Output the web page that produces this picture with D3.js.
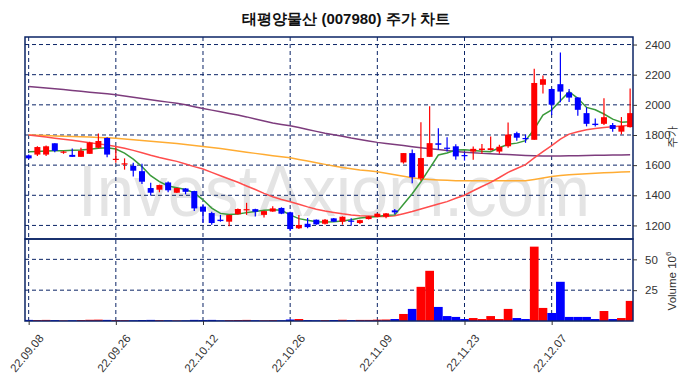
<!DOCTYPE html>
<html>
<head>
<meta charset="utf-8">
<script src="https://cdn.jsdelivr.net/npm/d3@7"></script>
<style>
  body { margin: 0; background: #fff; }
  text { font-family: "Liberation Sans", Arial, sans-serif; }
</style>
</head>
<body>
<svg id="chart" width="692" height="378"></svg>
<script>
// trading days 22.09.08 .. 22.12.20
var dates = ["22.09.08","22.09.13","22.09.14","22.09.15","22.09.16","22.09.19","22.09.20","22.09.21","22.09.22","22.09.23",
  "22.09.26","22.09.27","22.09.28","22.09.29","22.09.30","22.10.04","22.10.05","22.10.06","22.10.07","22.10.11",
  "22.10.12","22.10.13","22.10.14","22.10.17","22.10.18","22.10.19","22.10.20","22.10.21","22.10.24","22.10.25",
  "22.10.26","22.10.27","22.10.28","22.10.31","22.11.01","22.11.02","22.11.03","22.11.04","22.11.07","22.11.08",
  "22.11.09","22.11.10","22.11.11","22.11.14","22.11.15","22.11.16","22.11.17","22.11.18","22.11.21","22.11.22",
  "22.11.23","22.11.24","22.11.25","22.11.28","22.11.29","22.11.30","22.12.01","22.12.02","22.12.05","22.12.06",
  "22.12.07","22.12.08","22.12.09","22.12.12","22.12.13","22.12.14","22.12.15","22.12.16","22.12.19","22.12.20"];

var open  = [1665,1670,1670,1745,1685,1668,1655,1675,1715,1780, 1638,1608,1595,1560,1448,1437,1485,1417,1445,1428,
             1325,1282,1238,1225,1274,1304,1308,1270,1292,1316, 1287,1181,1211,1238,1211,1247,1225,1232,1216,1242,
             1256,1258,1300,1618,1680,1512,1655,1745,1716,1725, 1667,1690,1700,1700,1690,1725,1812,1780,1768,2133,
             2105,2137,2082,2049,1945,1875,1874,1866,1822,1852];
var high  = [1670,1725,1730,1745,1695,1710,1715,1755,1810,1785, 1720,1645,1615,1610,1483,1470,1492,1450,1448,1430,
             1340,1291,1270,1272,1312,1350,1310,1298,1327,1320, 1290,1270,1250,1240,1242,1250,1260,1247,1238,1262,
             1280,1283,1309,1680,1703,1885,1990,1845,1785,1738, 1685,1724,1740,1790,1735,1882,1822,1803,2240,2195,
             2108,2348,2105,2050,1983,1910,2043,1879,1919,2108];
var low   = [1640,1660,1660,1685,1675,1655,1655,1675,1710,1652, 1615,1570,1525,1475,1398,1420,1420,1415,1406,1295,
             1218,1205,1225,1195,1272,1270,1260,1252,1290,1275, 1163,1176,1181,1205,1206,1222,1205,1198,1210,1240,
             1255,1248,1275,1610,1480,1497,1655,1702,1690,1635, 1630,1636,1675,1697,1675,1715,1762,1748,1768,2075,
             1932,2017,2018,1928,1857,1857,1866,1822,1804,1850];
var close = [1645,1720,1725,1695,1690,1655,1695,1750,1760,1670, 1642,1612,1563,1490,1417,1468,1433,1448,1423,1313,
             1291,1216,1229,1269,1309,1308,1291,1295,1313,1278, 1176,1203,1189,1207,1238,1225,1258,1228,1235,1260,
             1278,1280,1287,1680,1520,1647,1746,1735,1710,1658, 1660,1708,1710,1712,1722,1803,1782,1772,2145,2170,
             2001,2088,2048,1967,1874,1866,1918,1840,1860,1945];

// volume in millions of shares
var volume = [0.9,0.8,0.9,0.7,0.5,0.6,0.8,1.0,1.1,0.9, 0.8,0.7,0.6,0.8,0.9,0.7,0.6,0.5,0.5,0.9,
              0.8,0.9,0.5,0.7,0.8,0.9,0.6,0.6,0.7,0.6, 1.2,1.6,0.7,0.6,0.7,0.8,1.0,0.7,0.9,0.9,
              1.1,1.2,1.6,5.7,9.8,27.7,40.7,11.4,4.0,3.3, 1.6,2.4,1.6,4.0,1.6,9.8,2.4,1.6,60.3,10.6,
              6.5,31.8,3.3,3.3,3.3,1.6,8.1,1.6,2.4,16.3];

// moving averages
var ma5   = [1689,1691,1694,1695,1696,1698,1700,1705,1712,1716, 1707,1680,1640,1590,1530,1490,1462,1450,1438,1416,
             1370,1315,1280,1272,1276,1285,1292,1300,1304,1300, 1270,1245,1235,1225,1222,1225,1230,1238,1250,1255,
             1260,1268,1270,1340,1410,1490,1578,1667,1680,1700, 1702,1697,1692,1689,1715,1738,1746,1762,1839,1932,
             1967,2027,2087,2043,1983,1967,1939,1905,1884,1887];
var ma20  = [1800,1793,1786,1779,1772,1765,1757,1749,1741,1733, 1724,1712,1698,1682,1665,1650,1637,1625,1608,1590,
             1574,1552,1530,1508,1486,1462,1438,1413,1390,1372, 1357,1340,1323,1308,1296,1286,1277,1270,1265,1262,
             1260,1260,1265,1278,1292,1309,1325,1342,1358,1380, 1400,1430,1458,1486,1518,1552,1578,1603,1648,1690,
             1730,1773,1806,1822,1835,1843,1850,1855,1860,1865];
var ma60  = [1800,1798,1796,1794,1792,1790,1788,1786,1784,1781, 1779,1774,1769,1764,1759,1753,1748,1743,1737,1731,
             1724,1717,1710,1702,1694,1686,1678,1670,1663,1656, 1649,1638,1627,1616,1605,1595,1585,1576,1568,1562,
             1556,1546,1536,1526,1516,1508,1504,1501,1499,1497, 1496,1496,1496,1496,1496,1496,1496,1496,1505,1515,
             1525,1532,1536,1540,1543,1546,1549,1551,1554,1556];
var ma120 = [2122,2117,2112,2106,2101,2095,2090,2084,2078,2073, 2067,2059,2050,2042,2034,2026,2018,2010,2000,1988,
             1976,1965,1954,1943,1932,1920,1906,1893,1880,1870, 1861,1849,1836,1824,1812,1802,1792,1780,1770,1760,
             1751,1744,1737,1730,1722,1715,1709,1703,1697,1691, 1686,1682,1678,1675,1673,1670,1667,1664,1662,1661,
             1661,1661,1662,1663,1664,1665,1666,1667,1668,1669];

var priceTicks = [1200, 1400, 1600, 1800, 2000, 2200, 2400];
var volTicks = [25, 50];
var dateTicks = ["22.09.08","22.09.26","22.10.12","22.10.26","22.11.09","22.11.23","22.12.07"];

var svg = d3.select("#chart"),
    left = 25, right = 633,
    pTop = 37, pBot = 239,
    vTop = 239, vBot = 321,
    navy = "#0b2466";

var x = d3.scaleLinear().domain([-0.42, 69.33]).range([left, right]);
var y = d3.scaleLinear().domain([1110, 2450]).range([pBot, pTop]);
var yv = d3.scaleLinear().domain([0, 66.5]).range([vBot, vTop]);

var up = function(i) { return close[i] >= open[i]; };
var colour = function(i) { return up(i) ? "#ff0000" : "#0000ff"; };

svg.append("text")
    .attr("x", 346).attr("y", 24)
    .attr("text-anchor", "middle")
    .attr("font-family", "'Noto Sans CJK KR', sans-serif")
    .attr("font-weight", "bold")
    .attr("font-size", 15)
    .attr("fill", "#111")
    .text("태평양물산 (007980) 주가 차트");

var defs = svg.append("defs");
defs.append("clipPath").attr("id", "clipP")
  .append("rect").attr("x", left).attr("y", pTop).attr("width", right - left).attr("height", pBot - pTop);
defs.append("clipPath").attr("id", "clipV")
  .append("rect").attr("x", left).attr("y", vTop).attr("width", right - left).attr("height", vBot - vTop);

// watermark
svg.append("text")
    .attr("x", 78).attr("y", 216)
    .attr("textLength", 512)
    .attr("lengthAdjust", "spacingAndGlyphs")
    .attr("font-size", 72)
    .attr("fill", "#e4e4e4")
    .text("InvestAxiom.com");

// grid
var tickIdx = dateTicks.map(function(d) { return dates.indexOf(d); });
var grid = svg.append("g")
    .attr("stroke", navy).attr("stroke-width", 1).attr("stroke-dasharray", "4,3").attr("fill", "none");
grid.selectAll("line.v").data(tickIdx).enter().append("line")
    .attr("x1", function(d) { return x(d); }).attr("x2", function(d) { return x(d); })
    .attr("y1", pTop).attr("y2", vBot);
grid.selectAll("line.p").data(priceTicks).enter().append("line")
    .attr("x1", left).attr("x2", right)
    .attr("y1", function(d) { return y(d); }).attr("y2", function(d) { return y(d); });
grid.selectAll("line.vv").data(volTicks).enter().append("line")
    .attr("x1", left).attr("x2", right)
    .attr("y1", function(d) { return yv(d); }).attr("y2", function(d) { return yv(d); });

// moving averages
var idx = d3.range(dates.length);
var lines = [
  {v: ma120, c: "#7d3c7d"},
  {v: ma60, c: "#ffac33"},
  {v: ma20, c: "#ff4d4d"},
  {v: ma5, c: "#3a9a3a"}
];
var lineGen = function(arr) {
  return d3.line().x(function(i) { return x(i); }).y(function(i) { return y(arr[i]); })(idx);
};
svg.append("g").attr("clip-path", "url(#clipP)")
  .selectAll("path").data(lines).enter().append("path")
    .attr("d", function(d) { return lineGen(d.v); })
    .attr("fill", "none")
    .attr("stroke", function(d) { return d.c; })
    .attr("stroke-width", 1.5);

// candles
var cw = 6;
var candles = svg.append("g").attr("clip-path", "url(#clipP)")
  .selectAll("g").data(idx).enter().append("g");
candles.append("line")
    .attr("x1", function(i) { return x(i); }).attr("x2", function(i) { return x(i); })
    .attr("y1", function(i) { return y(high[i]); }).attr("y2", function(i) { return y(low[i]); })
    .attr("stroke", colour).attr("stroke-width", 1.2);
candles.append("rect")
    .attr("x", function(i) { return x(i) - cw / 2; })
    .attr("width", cw)
    .attr("y", function(i) { return y(Math.max(open[i], close[i])); })
    .attr("height", function(i) { return Math.max(1.2, Math.abs(y(open[i]) - y(close[i]))); })
    .attr("fill", colour);

// volume bars
var bw = x(1) - x(0);
svg.append("g").attr("clip-path", "url(#clipV)")
  .selectAll("rect").data(idx).enter().append("rect")
    .attr("x", function(i) { return x(i) - bw / 2; })
    .attr("width", bw)
    .attr("y", function(i) { return yv(volume[i]); })
    .attr("height", function(i) { return vBot - yv(volume[i]); })
    .attr("fill", colour);

// frames
svg.append("rect").attr("x", left).attr("y", pTop).attr("width", right - left).attr("height", pBot - pTop)
    .attr("fill", "none").attr("stroke", navy).attr("stroke-width", 1.5);
svg.append("rect").attr("x", left).attr("y", vTop).attr("width", right - left).attr("height", vBot - vTop)
    .attr("fill", "none").attr("stroke", navy).attr("stroke-width", 1.5);

// right axes
var pAxis = svg.append("g")
    .attr("transform", "translate(" + right + ",0)")
    .call(d3.axisRight(y).tickValues(priceTicks).tickSize(4).tickPadding(8).tickFormat(d3.format("d")));
var vAxis = svg.append("g")
    .attr("transform", "translate(" + right + ",0)")
    .call(d3.axisRight(yv).tickValues(volTicks).tickSize(4).tickPadding(8));
var xAxis = svg.append("g")
    .attr("transform", "translate(0," + vBot + ")")
    .call(d3.axisBottom(x).tickValues(tickIdx).tickSize(4).tickFormat(function(i) { return dates[i]; }));
[pAxis, vAxis, xAxis].forEach(function(a) {
  a.select(".domain").remove();
  a.selectAll("line").attr("stroke", "#333");
  a.selectAll("text").attr("font-size", 11.5).attr("fill", "#333")
    .attr("font-family", "'Liberation Sans', Arial, sans-serif");
});
xAxis.selectAll(".tick text")
    .style("text-anchor", "end")
    .attr("x", 0).attr("y", 0)
    .attr("dy", "0.35em")
    .attr("transform", "translate(12,15) rotate(-50)");

// axis titles
svg.append("text")
    .attr("transform", "translate(676,137) rotate(-90)")
    .attr("text-anchor", "middle")
    .attr("font-family", "'Noto Sans CJK KR', sans-serif")
    .attr("font-size", 11).attr("fill", "#333")
    .text("주가");
var vl = svg.append("text")
    .attr("transform", "translate(676,281) rotate(-90)")
    .attr("text-anchor", "middle")
    .attr("font-size", 11.5).attr("fill", "#333");
vl.append("tspan").text("Volume  10");
vl.append("tspan").attr("dy", -5).attr("font-size", 8).text("6");
</script>
</body>
</html>
